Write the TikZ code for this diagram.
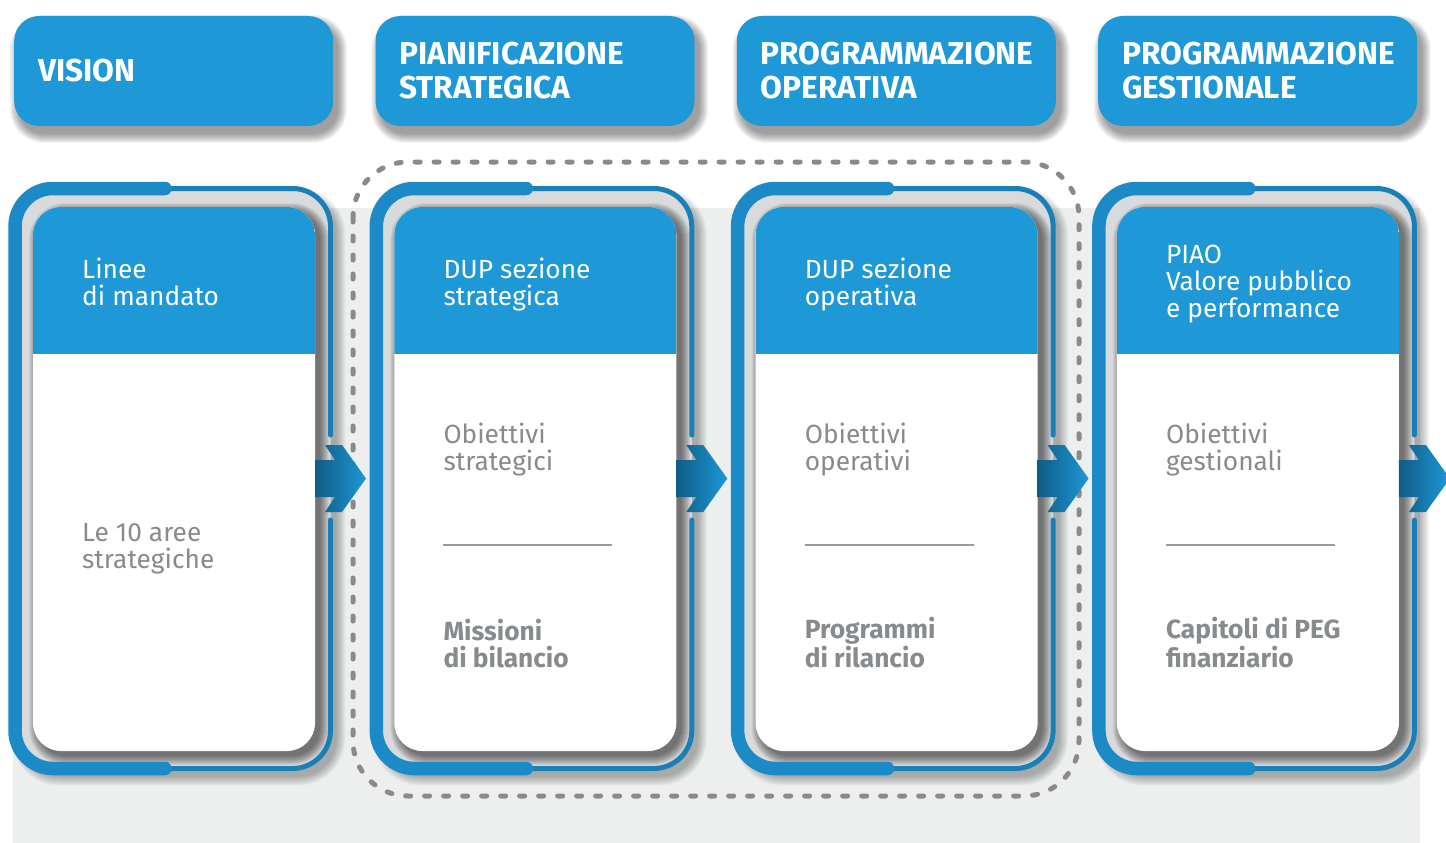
\documentclass[tikz,border=0pt]{standalone}
\usepackage{fontspec}
\setmainfont{Fira Sans}
\definecolor{hblue}{HTML}{1E98D6}
\definecolor{fblue}{HTML}{1B8AC6}
\definecolor{fblueT}{HTML}{1A7FB6}
\definecolor{bgray}{HTML}{EDEFEF}
\definecolor{ringgray}{HTML}{D9DADB}
\definecolor{txtgray}{HTML}{878B8D}
\definecolor{dashgray}{HTML}{8A8A8A}
\definecolor{arrL}{HTML}{0F5C86}
\definecolor{arrR}{HTML}{1E98D6}
% soft shadow: x1 y1 x2 y2 radius ox oy opacity
\newcommand\myshadow[8]{%
  \foreach \k in {0,...,9}{%
    \fill[black,opacity=#8,rounded corners={#5+\k}]
      ({#1+#6-\k},{#2+#7-\k}) rectangle ({#3+#6+\k},{#4+#7+\k});
  }}
\begin{document}
\begin{tikzpicture}[x=1pt,y=-1pt,
  hbox/.style={fill=hblue, rounded corners=25pt, minimum height=110pt,
    text width=271pt, inner xsep=24pt, inner ysep=0pt, align=left,
    text=white, font=\bfseries\fontsize{31.6}{34}\selectfont, anchor=west},
  chead/.style={anchor=base west, align=left, text=white, inner sep=0pt,
    font=\fontsize{26.3}{27}\selectfont},
  cbody/.style={anchor=base west, align=left, text=txtgray, inner sep=0pt,
    font=\fontsize{26.3}{27}\selectfont},
  cbold/.style={anchor=base west, align=left, text=txtgray, inner sep=0pt,
    font=\bfseries\fontsize{26.3}{27}\selectfont},
  sepline/.style={draw=txtgray!85, line width=1.3pt},
  frthin/.style={draw=fblueT, line width=5pt, line cap=round, rounded corners=38pt},
  frthick/.style={draw=fblue, line width=13.5pt, line cap=round, rounded corners=38pt},
  chev/.style={left color=arrL, right color=arrR},
  dashbox/.style={draw=dashgray, line width=5pt, line cap=round,
    dash pattern=on 5pt off 14pt, rounded corners=55pt},
]
\useasboundingbox (0,0) rectangle (1446,843);
\fill[white] (0,0) rectangle (1446,843);
\fill[bgray] (13,208) rectangle (1420,843);

% header shadows and boxes
\foreach \i in {0,1,2,3}{
  \pgfmathsetmacro\dx{361.3*\i}
  \myshadow{14+\dx}{16}{333+\dx}{126}{25}{5}{8}{0.045}
}
\node[hbox] (h1) at (14,71) {VISION};
\node[hbox] (h2) at (375.3,71) {PIANIFICAZIONE\\STRATEGICA};
\node[hbox] (h3) at (736.6,71) {PROGRAMMAZIONE\\OPERATIVA};
\node[hbox] (h4) at (1097.9,71) {PROGRAMMAZIONE\\GESTIONALE};

% cards
\foreach \i in {0,1,2,3}{
  \pgfmathsetmacro\dx{361.3*\i}
  \myshadow{15+\dx}{188.5}{330.5+\dx}{768.5}{38}{6}{8}{0.03}
  \fill[ringgray, rounded corners=38pt] (15+\dx,188.5) rectangle (330.5+\dx,768.5);
  \begin{scope}
    \clip[rounded corners=38pt] (15+\dx,188.5) rectangle (330.5+\dx,768.5);
    \myshadow{33+\dx}{207}{315+\dx}{751}{28}{5}{5}{0.06}
  \end{scope}
  \draw[frthin] (330.5+\dx,435) -- (330.5+\dx,188.5) -- (15+\dx,188.5)
     -- (15+\dx,768.5) -- (330.5+\dx,768.5) -- (330.5+\dx,520);
  \draw[frthick] (165+\dx,188.5) -- (15+\dx,188.5) -- (15+\dx,768.5) -- (165+\dx,768.5);
  \fill[white, rounded corners=28pt] (33+\dx,207) rectangle (315+\dx,751);
  \begin{scope}
    \clip[rounded corners=28pt] (33+\dx,207) rectangle (315+\dx,751);
    \fill[hblue] (33+\dx,200) rectangle (315+\dx,354);
  \end{scope}
}

% dashed group
\draw[dashbox] (353,162) rectangle (1079,796);

% chevron arrows
\foreach \i in {0,1,2,3}{
  \pgfmathsetmacro\dx{361.3*\i}
  \shade[chev] (315+\dx,460) -- (335+\dx,460) -- (325+\dx,445) -- (342+\dx,445)
    -- (366+\dx,478.5) -- (342+\dx,512) -- (325+\dx,512) -- (335+\dx,497)
    -- (315+\dx,497) -- cycle;
}

% card texts (anchor = baseline of the last line)
\node[chead] (t1) at (82,305) {Linee\\di mandato};
\node[cbody] (b1) at (82,568) {Le 10 aree\\strategiche};

\node[chead] (t2) at (443.3,305) {DUP sezione\\strategica};
\node[cbody] (o2) at (443.3,470) {Obiettivi\\strategici};
\coordinate (s2a) at (443.3,545); \coordinate (s2b) at (612.3,545);
\draw[sepline] (s2a) -- (s2b);
\node[cbold] (m2) at (443.3,667) {Missioni\\di bilancio};

\node[chead] (t3) at (804.6,305) {DUP sezione\\operativa};
\node[cbody] (o3) at (804.6,470) {Obiettivi\\operativi};
\coordinate (s3a) at (804.6,545); \coordinate (s3b) at (973.6,545);
\draw[sepline] (s3a) -- (s3b);
\node[cbold] (m3) at (804.6,667) {Programmi\\di rilancio};

\node[chead] (t4) at (1165.9,317) {PIAO\\Valore pubblico\\e performance};
\node[cbody] (o4) at (1165.9,470) {Obiettivi\\gestionali};
\coordinate (s4a) at (1165.9,545); \coordinate (s4b) at (1334.9,545);
\draw[sepline] (s4a) -- (s4b);
\node[cbold] (m4) at (1165.9,667) {Capitoli di PEG\\finanziario};
\end{tikzpicture}
\end{document}
